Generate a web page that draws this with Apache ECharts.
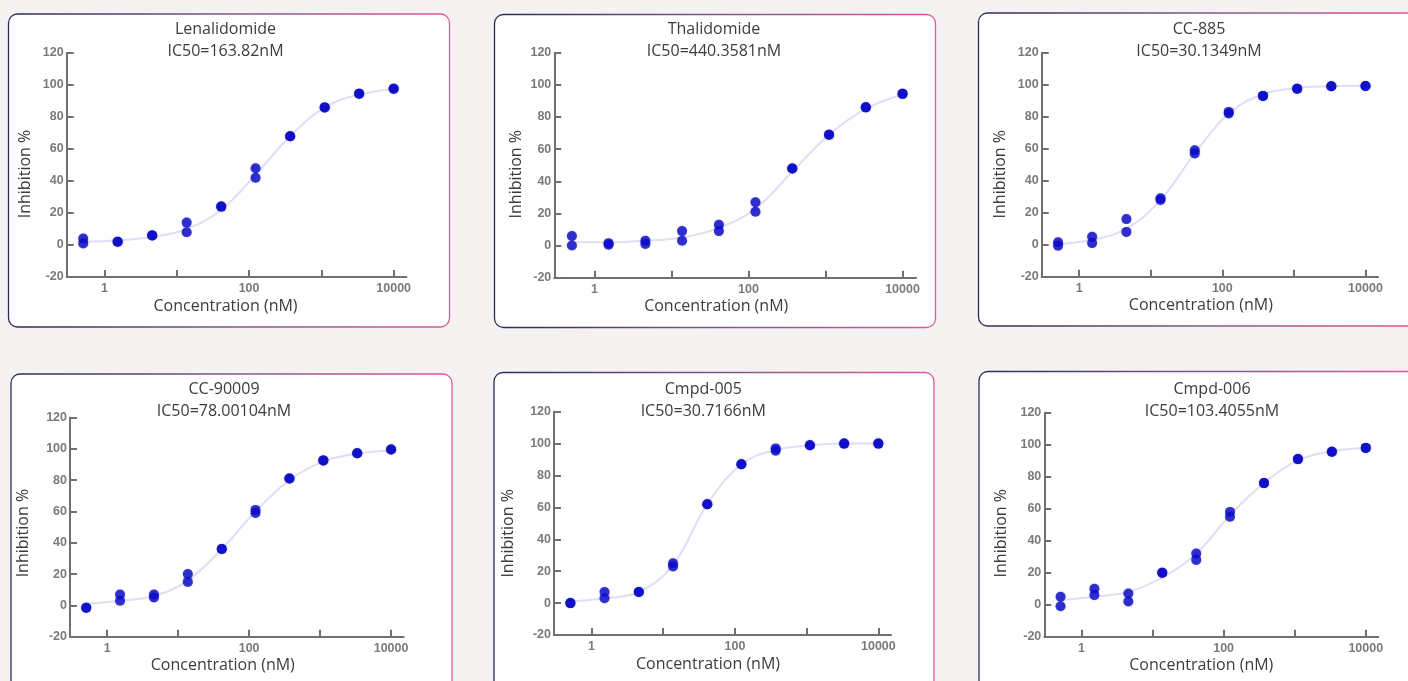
<!DOCTYPE html>
<html>
<head>
<meta charset="utf-8">
<script src="https://cdn.jsdelivr.net/npm/echarts@6/dist/echarts.min.js"></script>
<style>
html,body{margin:0;padding:0;background:#f4f3f1;}
#chart{width:1408px;height:681px;}
</style>
</head>
<body>
<div id="chart"></div>
<script>
// ---- data ----
const concentrations = [0.508, 1.52, 4.57, 13.7, 41.2, 123, 370, 1111, 3333, 10000];
const compounds = ['Lenalidomide', 'Thalidomide', 'CC-885', 'CC-90009', 'Cmpd-005', 'Cmpd-006'];
const ic50Labels = ['IC50=163.82nM', 'IC50=440.3581nM', 'IC50=30.1349nM', 'IC50=78.00104nM', 'IC50=30.7166nM', 'IC50=103.4055nM'];
// measured replicates (two per concentration)
const lenalidomideRep1 = [4, 2, 6, 14, 24, 48, 68, 86, 94.6, 97.7];
const lenalidomideRep2 = [1, 2, 6, 8, 24, 42, 68, 86, 94.6, 97.7];
const thalidomideRep1 = [6, 1.5, 3, 9, 13, 27, 48, 69, 86, 94.4];
const thalidomideRep2 = [0, 0.5, 1, 3, 9, 21, 48, 69, 86, 94.4];
const cc885Rep1 = [1.5, 5, 16, 29, 59, 83, 93, 97.5, 99, 99.2];
const cc885Rep2 = [-0.6, 1, 8, 28, 57, 82, 93, 97.5, 99, 99.2];
const cc90009Rep1 = [-1.5, 7, 7, 20, 36, 61, 81, 92.6, 97.2, 99.6];
const cc90009Rep2 = [-1.5, 3, 5, 15, 36, 59, 81, 92.6, 97.2, 99.6];
const cmpd005Rep1 = [0, 7, 7, 25, 62, 87, 97, 99, 100, 100];
const cmpd005Rep2 = [0, 3, 7, 23, 62, 87, 95.5, 99, 100, 100];
const cmpd006Rep1 = [5, 10, 7, 20, 32, 58, 76, 91, 95.6, 98];
const cmpd006Rep2 = [-1, 6, 2, 20, 28, 55, 76, 91, 95.6, 98];
// fitted curves at each concentration
const lenalidomideFit = [2, 3, 5, 10, 22, 44, 68, 86, 94, 97.5];
const thalidomideFit = [2, 2, 3, 5, 11, 23, 46, 69, 85, 94];
const cc885Fit = [0.5, 3, 10, 28, 57, 82, 94, 98, 99, 99.5];
const cc90009Fit = [1, 3, 6, 16, 36, 60, 80, 92, 97, 99];
const cmpd005Fit = [1, 3, 7, 24, 62, 87, 96, 99, 100, 100];
const cmpd006Fit = [3, 5, 8, 17, 32, 56, 76, 90, 96, 98];
const yTicks = { min: -20, max: 120, step: 20 };
const xRange = { min: 0.3, max: 15000 };
const xTitle = 'Concentration (nM)';
const yTitle = 'Inhibition %';

const replicates = [
  [lenalidomideRep1, lenalidomideRep2],
  [thalidomideRep1, thalidomideRep2],
  [cc885Rep1, cc885Rep2],
  [cc90009Rep1, cc90009Rep2],
  [cmpd005Rep1, cmpd005Rep2],
  [cmpd006Rep1, cmpd006Rep2]
];
const fits = [lenalidomideFit, thalidomideFit, cc885Fit, cc90009Fit, cmpd005Fit, cmpd006Fit];

// ---- layout (pixels) ----
const panels = [
  {box: [8.5, 14, 441, 313], grid: [66.7, 53, 339.7, 224], title: [225.5, 18], xShift: 11, yGap: 33, yShift: 9},
  {box: [494.5, 14.5, 441, 313], grid: [554.3, 52.7, 361.8, 225], title: [714, 18], xShift: 19, yGap: 30, yShift: 9},
  {box: [978.5, 13, 442, 313], grid: [1041.7, 52.7, 336.4, 224], title: [1199, 18], xShift: 9, yGap: 33, yShift: 9.5},
  {box: [11, 374, 441, 330], grid: [70, 417.5, 333.6, 219.2], title: [224, 378], xShift: 14, yGap: 39, yShift: 6},
  {box: [494, 372.5, 440, 330], grid: [554, 411.7, 337, 223.3], title: [703.3, 378], xShift: 14.5, yGap: 38, yShift: 10},
  {box: [979, 371.5, 442, 330], grid: [1044.3, 412.7, 334, 224], title: [1212, 378], xShift: 10, yGap: 35, yShift: 8.5}
];

const FONT = '"Open Sans", "Noto Sans", sans-serif';
const TICKFONT = '"Liberation Sans", Arial, sans-serif';
const AXIS_COLOR = '#707070';
const TEXT_COLOR = '#3c3c3c';

const grids = [], xAxes = [], yAxes = [], series = [], titles = [], graphics = [];

panels.forEach((p, i) => {
  graphics.push({
    type: 'rect', z: -10, silent: true,
    shape: {x: p.box[0], y: p.box[1], width: p.box[2], height: p.box[3], r: 9},
    style: {
      fill: '#ffffff',
      stroke: new echarts.graphic.LinearGradient(0, 0, 1, 0, [
        {offset: 0, color: '#2a2b5b'},
        {offset: 0.5, color: '#7a5a8c'},
        {offset: 1, color: '#e2559e'}
      ]),
      lineWidth: 1.3
    }
  });
  grids.push({left: p.grid[0], top: p.grid[1], width: p.grid[2], height: p.grid[3], containLabel: false});
  titles.push({
    text: compounds[i] + '\n' + ic50Labels[i],
    left: p.title[0], top: p.title[1], textAlign: 'center', padding: 0,
    textStyle: {fontFamily: FONT, fontSize: 16, fontWeight: 'normal', color: TEXT_COLOR, lineHeight: 22}
  });
  xAxes.push({
    type: 'log', logBase: 10, gridIndex: i, min: xRange.min, max: xRange.max,
    name: xTitle, nameLocation: 'middle', nameGap: 21,
    nameTextStyle: {fontFamily: FONT, fontSize: 16, color: TEXT_COLOR, padding: [0, 2 * p.xShift, 0, 0]},
    axisLine: {show: true, onZero: false, lineStyle: {color: AXIS_COLOR, width: 2}},
    axisTick: {show: true, inside: true, length: 7, lineStyle: {color: AXIS_COLOR, width: 2}},
    splitLine: {show: false},
    axisLabel: {
      margin: 5, fontFamily: TICKFONT, fontSize: 12.5, fontWeight: 'bold', color: '#7a7a7a',
      showMinLabel: false, showMaxLabel: false,
      formatter: v => {
        const e = Math.log10(v);
        const r = Math.round(e);
        if (Math.abs(e - r) > 1e-6 || r % 2 !== 0 || r < 0) return '';
        return String(Math.round(Math.pow(10, r)));
      }
    }
  });
  yAxes.push({
    type: 'value', gridIndex: i, min: yTicks.min, max: yTicks.max, interval: yTicks.step,
    name: yTitle, nameLocation: 'middle', nameGap: p.yGap,
    nameTextStyle: {fontFamily: FONT, fontSize: 16, color: TEXT_COLOR, padding: [0, 2 * p.yShift, 0, 0]},
    axisLine: {show: true, lineStyle: {color: AXIS_COLOR, width: 2}},
    axisTick: {show: true, inside: true, length: 7, lineStyle: {color: AXIS_COLOR, width: 2}},
    splitLine: {show: false},
    axisLabel: {margin: 3, fontFamily: TICKFONT, fontSize: 12.5, fontWeight: 'bold', color: '#7a7a7a'}
  });
  const [r1, r2] = replicates[i];
  series.push({
    type: 'line', xAxisIndex: i, yAxisIndex: i,
    data: concentrations.map((c, k) => [c, fits[i][k]]), smooth: 0.4,
    showSymbol: false, silent: true,
    lineStyle: {color: '#dedef5', width: 2}, z: 1
  });
  const pts = [];
  concentrations.forEach((c, k) => { pts.push([c, r1[k]]); pts.push([c, r2[k]]); });
  series.push({
    type: 'scatter', xAxisIndex: i, yAxisIndex: i, data: pts, symbolSize: 10,
    itemStyle: {color: '#0b0bc6', shadowBlur: 1.5, shadowColor: 'rgba(11,11,198,0.35)'}, z: 3
  });
});

const chart = echarts.init(document.getElementById('chart'), null, {renderer: 'canvas'});
chart.setOption({
  backgroundColor: '#f4f3f1',
  animation: false,
  title: titles,
  grid: grids,
  xAxis: xAxes,
  yAxis: yAxes,
  series: series,
  graphic: graphics
});
</script>
</body>
</html>
